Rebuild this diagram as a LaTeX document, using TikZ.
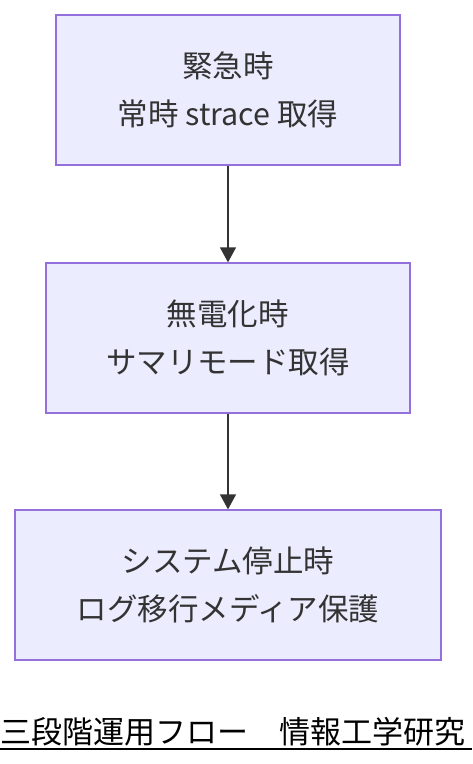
\documentclass[tikz,border=0pt]{standalone}
\usepackage{fontspec}
\setmainfont{Noto Sans CJK JP}
\usetikzlibrary{arrows.meta}
\definecolor{boxfill}{HTML}{ECECFF}
\definecolor{boxline}{HTML}{9370DB}
\definecolor{inkgray}{HTML}{333333}

\begin{document}
\begin{tikzpicture}[x=1pt,y=-1pt,
    stagebox/.style={draw=boxline,fill=boxfill,line width=1.3pt,minimum height=150pt,
        align=center,text=inkgray,font=\fontsize{30.5}{48}\selectfont},
    flow/.style={draw=inkgray,line width=1.5pt,-{Triangle[width=16pt,length=15pt]}}]
            \useasboundingbox (0,0) rectangle (472,764);
            \node[stagebox,minimum width=344pt] (urgent) at (228,90) {緊急時\\常時 strace 取得};
            \node[stagebox,minimum width=364pt] (nopower) at (228,338) {無電化時\\サマリモード取得};
            \node[stagebox,minimum width=426pt] (halt) at (228,585) {システム停止時\\ログ移行メディア保護};
            \draw[flow] (urgent) -- (nopower);
            \draw[flow] (nopower) -- (halt);
            \node[anchor=west,inner sep=0pt,font=\fontsize{31}{31}\selectfont] (caption) at (0,732) {三段階運用フロー　情報工学研究};
            \coordinate (lineend) at (472,749);
            \draw[line width=2pt] (caption.west |- lineend) -- (lineend);
        \end{tikzpicture}
\end{document}
